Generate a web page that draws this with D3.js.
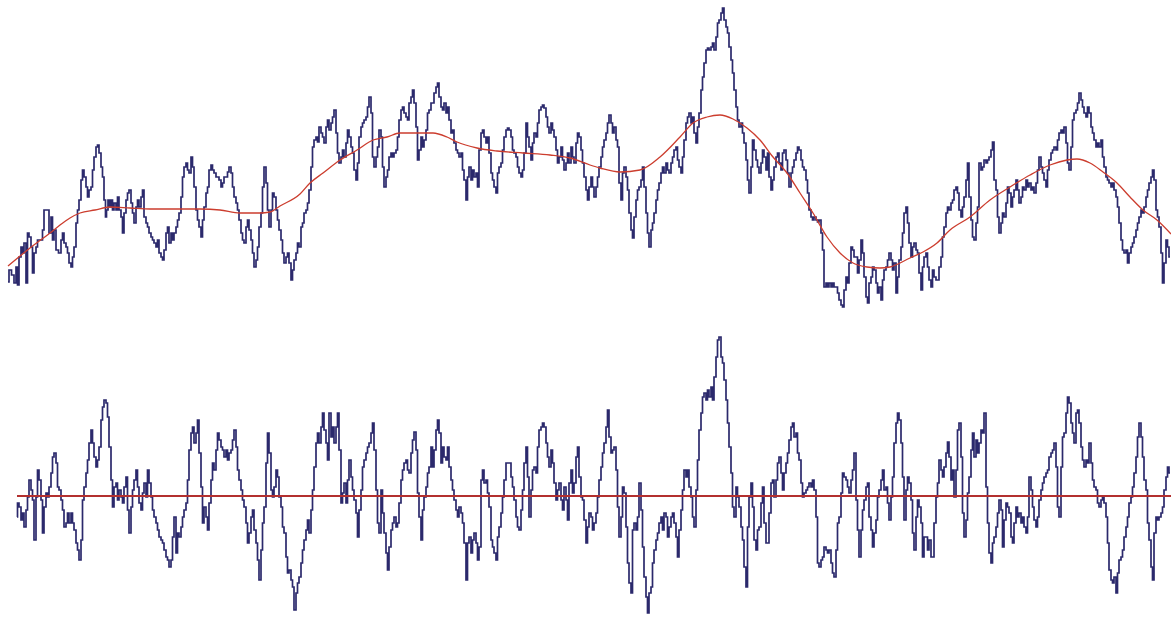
<!DOCTYPE html>
<html>
<head>
<meta charset="utf-8">
<script src="https://cdn.jsdelivr.net/npm/d3@7"></script>
<style>
  body { margin: 0; background: #fff; }
</style>
</head>
<body>
<div id="chartContainer"></div>
<script>
"use strict";
// raw signal, [sample, value]
var rawSignal = [
[8,28],[10,40],[13,35],[15,27],[17,43],[18,25],[20,53],[22,63],[23,57],[25,67],[27,27],[28,77],[30,73],[32,63],[33,37],[35,57],[37,63],[38,70],[42,70],[43,80],[45,100],[48,100],[50,77],[52,93],[53,70],[55,80],[57,60],[60,57],[62,70],[63,77],[65,67],[67,63],[68,57],[70,47],[72,43],[73,53],[75,63],[77,87],[78,100],[80,110],[82,130],[83,140],[85,133],[87,123],[88,113],[90,120],[92,123],[93,140],[95,153],[97,163],[98,165],[100,157],[102,143],[103,133],[105,110],[106,93],[107,100],[109,110],[110,103],[112,110],[113,100],[115,107],[117,100],[118,113],[120,100],[122,93],[123,77],[125,97],[127,110],[128,117],[130,120],[132,107],[133,97],[135,87],[137,103],[138,110],[140,103],[142,113],[143,120],[145,93],[147,87],[148,83],[150,77],[152,73],[153,70],[155,67],[157,63],[158,70],[160,57],[162,53],[163,50],[165,60],[167,77],[168,83],[170,67],[172,77],[173,70],[175,77],[177,83],[178,90],[180,97],[182,113],[183,133],[185,143],[187,147],[188,140],[190,137],[192,153],[193,143],[195,123],[197,100],[198,90],[200,83],[202,73],[203,90],[205,103],[207,117],[208,123],[210,140],[212,145],[213,140],[215,137],[217,133],[218,133],[220,130],[222,123],[223,127],[225,133],[227,133],[228,138],[230,143],[232,137],[233,123],[235,113],[237,107],[238,100],[240,90],[242,77],[243,70],[245,67],[247,83],[248,90],[250,80],[252,70],[253,57],[255,43],[257,50],[258,63],[260,83],[262,97],[263,123],[265,143],[267,127],[268,100],[270,83],[272,100],[273,117],[275,113],[277,100],[278,90],[280,80],[282,70],[283,57],[285,47],[287,53],[288,57],[290,47],[292,30],[293,40],[295,50],[297,57],[298,67],[300,63],
[302,83],[303,87],[305,97],[307,100],[308,107],[310,120],[312,143],[313,163],[315,170],[317,173],[318,168],[320,183],[322,177],[323,173],[325,167],[327,183],[328,190],[330,180],[332,187],[333,193],[335,200],[337,177],[338,157],[340,147],[342,153],[343,160],[345,153],[347,167],[348,180],[350,173],[352,163],[353,157],[355,140],[357,130],[358,147],[360,173],[362,183],[363,187],[365,190],[367,193],[368,203],[370,213],[372,197],[373,153],[375,143],[377,153],[378,163],[380,180],[382,173],[383,143],[385,123],[387,133],[388,140],[390,153],[392,157],[393,153],[395,157],[397,160],[398,173],[400,190],[402,200],[403,203],[405,197],[407,193],[408,190],[410,207],[412,213],[413,220],[415,207],[417,183],[418,150],[420,160],[422,173],[423,163],[425,170],[427,180],[428,197],[430,200],[432,207],[433,207],[435,217],[437,223],[438,227],[440,213],[442,203],[443,200],[445,207],[447,197],[448,203],[450,190],[452,177],[453,180],[455,167],[457,160],[458,157],[460,153],[462,157],[463,140],[465,130],[467,110],[468,133],[470,143],[472,130],[473,140],[475,133],[477,137],[478,123],[480,160],[482,177],[483,180],[485,173],[487,167],[488,173],[490,157],[492,137],[493,130],[495,123],[497,117],[498,137],[500,143],[502,147],[503,160],[505,173],[507,180],[508,182],[510,180],[512,173],[513,160],[515,157],[517,153],[518,143],[520,137],[522,133],[523,140],[525,157],[527,187],[528,173],[530,163],[532,150],[533,167],[535,177],[537,173],[538,187],[540,200],[542,203],[543,205],[545,202],[547,193],[548,183],[550,177],[552,187],[553,180],[555,173],[557,160],[558,147],[560,153],[562,163],[563,150],[565,140],[567,147],[568,157],[570,147],[572,163],[573,153],[575,147],[577,167],[578,177],[580,173],[582,160],[583,147],[585,133],[587,120],[588,110],[590,123],
[592,133],[593,123],[595,113],[597,123],[598,133],[600,143],[602,153],[603,163],[605,170],[607,177],[608,187],[610,195],[612,187],[613,177],[615,183],[617,170],[618,163],[620,127],[622,110],[623,137],[625,143],[627,133],[628,120],[630,97],[632,80],[633,72],[635,93],[637,110],[638,120],[640,123],[642,130],[643,143],[645,123],[647,97],[648,77],[650,63],[652,80],[653,87],[655,97],[657,110],[658,120],[660,127],[662,137],[663,143],[665,137],[667,147],[668,140],[670,137],[672,147],[673,153],[675,160],[677,163],[678,150],[680,143],[682,137],[683,153],[685,170],[687,187],[688,193],[690,197],[692,187],[693,193],[695,177],[697,167],[698,183],[700,197],[702,220],[703,233],[705,247],[707,260],[708,262],[710,260],[712,263],[713,267],[715,260],[717,273],[718,287],[720,290],[722,297],[723,302],[725,290],[727,283],[728,277],[730,263],[732,250],[733,237],[735,220],[737,203],[738,190],[740,183],[742,187],[743,177],[745,167],[747,150],[748,130],[750,117],[752,143],[753,170],[755,160],[757,150],[758,143],[760,137],[762,147],[763,160],[765,153],[767,140],[768,157],[770,133],[772,120],[773,130],[775,143],[777,153],[778,157],[780,147],[782,140],[783,157],[785,160],[787,150],[788,137],[790,123],[792,137],[793,143],[795,150],[797,157],[798,163],[800,160],[802,150],[803,143],[805,140],[807,130],[808,117],[810,100],[812,93],[813,90],[815,93],[817,90],[818,88],[820,90],[822,77],[823,60],[825,23],[827,27],[828,23],[830,27],[832,23],[833,27],[835,23],[837,23],[838,17],[840,10],[842,5],[843,3],[845,20],[847,33],[848,27],[850,47],[852,63],[853,60],[855,53],[857,53],[858,37],[860,50],[862,70],[863,57],[865,33],[867,13],[868,7],[870,27],[872,33],[873,43],[875,40],[877,27],[878,17],[880,23],
[882,10],[883,30],[885,40],[887,43],[888,50],[890,57],[892,50],[893,40],[895,47],[897,17],[898,33],[900,50],[902,63],[903,77],[905,97],[907,103],[908,87],[910,67],[912,53],[913,63],[915,67],[917,60],[918,57],[920,37],[922,20],[923,43],[925,53],[927,57],[928,43],[930,30],[932,23],[933,40],[935,33],[937,30],[938,30],[940,43],[942,53],[943,73],[945,83],[947,97],[948,103],[950,100],[952,107],[953,110],[955,120],[957,123],[958,117],[960,100],[962,93],[963,103],[965,113],[967,130],[968,147],[970,113],[972,90],[973,73],[975,70],[977,87],[978,103],[980,147],[982,140],[983,143],[985,150],[987,147],[988,150],[990,153],[992,160],[993,168],[995,130],[997,120],[998,93],[1000,77],[1002,87],[1003,97],[1005,93],[1007,107],[1008,123],[1010,117],[1012,103],[1013,113],[1015,120],[1017,130],[1018,120],[1020,107],[1022,113],[1023,123],[1025,120],[1027,130],[1028,123],[1030,127],[1032,120],[1033,123],[1035,117],[1037,127],[1038,140],[1040,153],[1042,143],[1043,137],[1045,130],[1047,123],[1048,140],[1050,150],[1052,157],[1053,160],[1055,163],[1057,160],[1058,170],[1060,177],[1062,180],[1063,177],[1065,183],[1067,167],[1068,147],[1070,140],[1072,163],[1073,190],[1075,197],[1077,200],[1078,207],[1080,217],[1082,210],[1083,203],[1085,197],[1087,193],[1088,203],[1090,197],[1092,183],[1093,177],[1095,170],[1097,163],[1098,167],[1100,163],[1102,170],[1103,153],[1105,143],[1107,133],[1108,130],[1110,127],[1112,123],[1113,127],[1115,120],[1117,113],[1118,103],[1120,87],[1122,70],[1123,60],[1125,57],[1127,60],[1128,47],[1130,57],[1132,63],[1133,67],[1135,73],[1137,80],[1138,87],[1140,93],[1142,100],[1143,97],[1145,103],[1147,113],[1148,120],[1150,127],[1152,133],[1153,140],[1155,130],[1157,100],[1158,93],[1160,83],[1162,57],[1163,27],[1165,47],[1167,70],[1168,63],[1170,53]
];

// smoothed trend, [sample, value]
var trendLine = [
[8,44],[30,62],[50,77],[60,85],[70,92],[80,97],[95,100],[110,103],[130,102],[150,101],[180,101],[200,101],[220,100],[240,97],[260,97],[270,98],[280,104],[300,116],[310,127],[323,137],[340,150],[357,160],[373,170],[387,173],[400,177],[433,177],[447,173],[457,168],[477,162],[497,159],[523,157],[550,155],[570,152],[590,145],[600,142],[620,138],[640,140],[660,153],[680,173],[693,187],[707,193],[720,195],[733,191],[747,182],[760,170],[773,153],[787,137],[800,117],[813,97],[827,73],[840,57],[853,47],[867,43],[880,42],[890,43],[910,52],[923,58],[937,67],[950,80],[970,93],[990,110],[1010,123],[1030,135],[1050,145],[1067,150],[1077,151],[1090,147],[1103,138],[1117,127],[1130,113],[1143,100],[1157,90],[1171,76]
];

// signal minus trend, [sample, value]
var detrended = [
[17,-21],[18,-7],[20,-11],[22,-24],[23,-17],[25,-31],[27,-14],[28,-1],[30,16],[32,6],[33,-4],[35,-44],[37,-1],[38,26],[40,16],[42,-4],[43,-37],[45,-11],[47,3],[48,-1],[50,9],[52,23],[53,39],[55,43],[57,33],[58,9],[60,6],[62,-4],[63,-14],[65,-31],[67,-27],[68,-17],[70,-27],[72,-17],[73,-27],[75,-34],[77,-47],[78,-54],[80,-64],[82,-44],[83,-4],[85,9],[87,23],[88,36],[90,53],[92,66],[93,53],[95,39],[97,29],[98,36],[100,49],[102,76],[103,89],[105,96],[107,93],[108,79],[110,49],[112,16],[113,-11],[115,9],[117,13],[118,-4],[120,6],[122,-1],[123,-7],[125,9],[127,19],[128,-14],[130,-37],[132,-11],[133,6],[135,16],[137,26],[138,9],[140,-7],[142,-14],[143,3],[145,13],[147,-1],[148,26],[150,13],[152,-1],[153,-14],[155,-21],[157,-27],[158,-34],[160,-41],[162,-44],[163,-47],[165,-54],[167,-61],[168,-64],[170,-71],[172,-64],[173,-41],[175,-21],[177,-57],[178,-37],[180,-41],[182,-31],[183,-21],[185,-14],[187,-7],[188,16],[190,46],[192,63],[193,69],[195,53],[197,63],[198,76],[200,43],[202,9],[203,-27],[205,-11],[207,-21],[208,-34],[210,-7],[212,16],[213,33],[215,26],[217,46],[218,63],[220,56],[222,49],[223,46],[225,39],[227,46],[228,36],[230,43],[232,46],[233,56],[235,66],[237,49],[238,26],[240,16],[242,6],[243,-4],[245,-11],[247,-27],[248,-47],[250,-37],[252,-21],[253,-14],[255,-34],[257,-47],[258,-64],[260,-84],[262,-54],[263,-27],[265,-11],[267,33],[268,63],[270,43],[272,6],[273,-1],[275,9],[277,26],[278,19],[280,-1],[282,-11],[283,-31],[285,-37],[287,-61],[288,-77],[290,-74],[292,-84],[293,-91],[295,-114],[297,-97],[298,-87],[300,-81],
[302,-67],[303,-54],[305,-44],[307,-34],[308,-24],[310,-37],[312,-14],[313,6],[315,29],[317,53],[318,63],[320,53],[322,69],[323,83],[325,66],[327,53],[328,36],[330,83],[332,59],[333,69],[335,53],[337,69],[338,83],[340,46],[342,-7],[343,3],[345,13],[347,-7],[348,16],[350,36],[352,19],[353,6],[355,-4],[357,-17],[358,-41],[360,-14],[362,6],[363,29],[365,36],[367,43],[368,49],[370,53],[372,63],[373,73],[375,46],[377,6],[378,-27],[380,-37],[382,6],[383,-17],[385,-37],[387,-57],[388,-74],[390,-51],[392,-34],[393,-27],[395,-21],[397,-31],[398,-27],[400,-7],[402,16],[403,26],[405,33],[407,36],[408,26],[410,23],[412,43],[413,56],[415,64],[417,46],[418,3],[420,-21],[422,-44],[423,-14],[425,-1],[427,9],[428,23],[430,29],[432,49],[433,29],[435,46],[437,66],[438,76],[440,63],[442,33],[443,49],[445,39],[447,36],[448,49],[450,29],[452,16],[453,6],[455,-4],[457,-14],[458,-21],[460,-11],[462,-17],[463,-27],[465,-47],[467,-84],[468,-47],[470,-41],[472,-57],[473,-44],[475,-37],[477,-47],[478,-64],[480,-51],[482,16],[483,26],[485,13],[487,16],[488,3],[490,-11],[492,-44],[493,-51],[495,-57],[497,-64],[498,-41],[500,-31],[502,-17],[503,-1],[505,16],[507,33],[508,33],[510,33],[512,19],[513,9],[515,-4],[517,-21],[518,-31],[520,-34],[522,-14],[523,6],[525,33],[527,49],[528,19],[530,-21],[532,6],[533,26],[535,29],[537,23],[538,49],[540,66],[542,69],[543,73],[545,69],[547,53],[548,39],[550,29],[552,46],[553,33],[555,13],[557,-4],[558,6],[560,13],[562,-4],[563,-14],[565,9],[567,-4],[568,-24],[570,13],[572,26],[573,3],[575,13],[577,39],[578,49],[580,19],[582,-1],[583,-4],[585,-24],[587,-47],[588,-31],[590,-17],
[592,-21],[593,-34],[595,-27],[597,-17],[598,-1],[600,16],[602,29],[603,43],[605,53],[607,69],[608,86],[610,59],[612,43],[613,46],[615,49],[617,26],[618,-11],[620,-41],[622,-21],[623,9],[625,3],[627,-31],[628,-67],[630,-87],[632,-97],[633,-34],[635,-27],[637,-34],[638,-21],[640,13],[642,-14],[643,-51],[645,-81],[647,-101],[648,-117],[650,-97],[652,-91],[653,-67],[655,-54],[657,-44],[658,-37],[660,-27],[662,-21],[663,-34],[665,-17],[667,-21],[668,-41],[670,-31],[672,-21],[673,-17],[675,-27],[677,-41],[678,-61],[680,-34],[682,-14],[683,6],[685,26],[687,19],[688,26],[690,9],[692,-1],[693,-21],[695,-31],[697,6],[698,36],[700,66],[702,83],[703,99],[705,103],[707,96],[708,106],[710,99],[712,109],[713,96],[715,119],[717,139],[718,156],[720,159],[722,139],[723,133],[725,116],[727,96],[728,73],[730,49],[732,23],[733,-11],[735,-21],[737,9],[738,-1],[740,-11],[742,-31],[743,-44],[745,-71],[747,-91],[748,-31],[750,-1],[752,13],[753,-11],[755,-44],[757,-54],[758,-34],[760,-31],[762,-7],[763,9],[765,-27],[767,-47],[768,-47],[770,-17],[772,13],[773,16],[775,-1],[777,16],[778,33],[780,39],[782,23],[783,6],[785,23],[787,33],[788,43],[790,56],[792,69],[793,73],[795,59],[797,63],[798,43],[800,36],[802,13],[803,-1],[805,3],[807,6],[808,9],[810,13],[812,9],[813,16],[815,6],[817,-21],[818,-67],[820,-71],[822,-64],[823,-61],[825,-51],[827,-54],[828,-57],[830,-54],[832,-67],[833,-77],[835,-81],[837,-54],[838,-27],[840,-21],[842,3],[843,23],[845,19],[847,16],[848,9],[850,3],[852,16],[853,26],[855,43],[857,-4],[858,-34],[860,-61],[862,-34],[863,-14],[865,-4],[867,9],[868,13],[870,-21],[872,-34],[873,-51],[875,-37],[877,-24],[878,-1],[880,6],
[882,16],[883,26],[885,6],[887,9],[888,-7],[890,-24],[892,-1],[893,19],[895,53],[897,73],[898,83],[900,76],[902,53],[903,19],[905,-24],[907,6],[908,19],[910,13],[912,-4],[913,-37],[915,-54],[917,-21],[918,-4],[920,-11],[922,-27],[923,-61],[925,-41],[927,-41],[928,-54],[930,-44],[932,-61],[933,-61],[935,-27],[937,-1],[938,13],[940,36],[942,26],[943,19],[945,29],[947,43],[948,54],[950,39],[952,16],[953,26],[955,-1],[957,26],[958,66],[960,73],[962,39],[963,-17],[965,-41],[967,-24],[968,3],[970,19],[972,46],[973,63],[975,39],[977,56],[978,43],[980,53],[982,66],[983,63],[985,83],[987,9],[988,-27],[990,-57],[992,-67],[993,-47],[995,-41],[997,-31],[998,-17],[1000,-4],[1002,-14],[1003,-51],[1005,-24],[1007,-7],[1008,-11],[1010,-17],[1012,-41],[1013,-47],[1015,-27],[1017,-11],[1018,-21],[1020,-17],[1022,-27],[1023,-21],[1025,-31],[1027,-37],[1028,-21],[1030,19],[1032,6],[1033,-11],[1035,-24],[1037,-31],[1038,-21],[1040,-4],[1042,6],[1043,13],[1045,19],[1047,23],[1048,26],[1050,39],[1052,43],[1053,46],[1055,53],[1057,29],[1058,-11],[1060,-21],[1062,29],[1063,59],[1065,63],[1067,83],[1068,99],[1070,93],[1072,73],[1073,63],[1075,53],[1077,83],[1078,86],[1080,73],[1082,49],[1083,36],[1085,29],[1087,36],[1088,33],[1090,53],[1092,33],[1093,16],[1095,9],[1097,6],[1098,-7],[1100,-11],[1102,-4],[1103,-1],[1105,-7],[1107,-21],[1108,-47],[1110,-74],[1112,-84],[1113,-87],[1115,-81],[1117,-97],[1118,-77],[1120,-64],[1122,-61],[1123,-54],[1125,-41],[1127,-31],[1128,-21],[1130,-7],[1132,-1],[1133,9],[1135,23],[1137,39],[1138,59],[1140,73],[1142,59],[1143,39],[1145,16],[1147,6],[1148,-27],[1150,-44],[1152,-71],[1153,-84],[1155,-37],[1157,-21],[1158,-24],[1160,-21],[1162,-17],[1163,-11],[1165,6],[1167,19],[1168,29],[1170,23]
];

var zeroLine = [[17, 0], [1171, 0]];

var width = 1171, height = 619;
var svg = d3.select("#chartContainer").append("svg")
    .attr("width", width)
    .attr("height", height)
    .style("display", "block");

// one sample per pixel across the whole picture
var x = d3.scaleLinear().domain([0, 1171]).range([0, 1171]);
var yTop = d3.scaleLinear().domain([0, 300]).range([310, 10]);
var yBottom = d3.scaleLinear().domain([-120, 160]).range([616, 336]);

var blue = "#2b296c";
var red = "#cc3d2e";

var topStep = d3.line()
    .x(function (d) { return x(d[0]); })
    .y(function (d) { return yTop(d[1]); })
    .curve(d3.curveStep);

var topSmooth = d3.line()
    .x(function (d) { return x(d[0]); })
    .y(function (d) { return yTop(d[1]); })
    .curve(d3.curveMonotoneX);

var bottomStep = d3.line()
    .x(function (d) { return x(d[0]); })
    .y(function (d) { return yBottom(d[1]); })
    .curve(d3.curveStep);

// top panel: raw signal + trend
svg.append("path")
    .datum(rawSignal)
    .attr("d", topStep)
    .attr("fill", "none")
    .attr("stroke", blue)
    .attr("stroke-width", 1.7);

svg.append("path")
    .datum(trendLine)
    .attr("d", topSmooth)
    .attr("fill", "none")
    .attr("stroke", red)
    .attr("stroke-width", 1.3);

// bottom panel: detrended signal + zero level
svg.append("path")
    .datum(detrended)
    .attr("d", bottomStep)
    .attr("fill", "none")
    .attr("stroke", blue)
    .attr("stroke-width", 1.7);

svg.append("path")
    .datum(zeroLine)
    .attr("d", d3.line()
        .x(function (d) { return x(d[0]); })
        .y(function (d) { return yBottom(d[1]); }))
    .attr("fill", "none")
    .attr("stroke", "#b3302f")
    .attr("stroke-width", 2);
</script>
</body>
</html>
